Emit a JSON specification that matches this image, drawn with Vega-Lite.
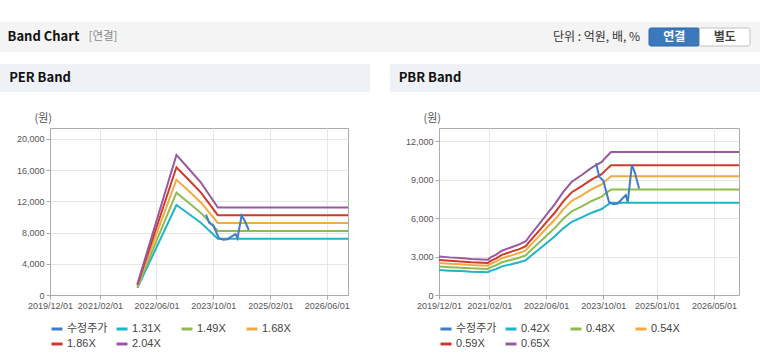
{
  "$schema": "https://vega.github.io/schema/vega-lite/v6.json",
  "padding": {"top": 22, "left": 0, "right": 0, "bottom": 0},
  "background": "#ffffff",
  "datasets": {
    "price": [
      {"d":"2023-08-01","s":"수정주가","v":10300},{"d":"2023-08-28","s":"수정주가","v":9240},{"d":"2023-10-02","s":"수정주가","v":8930},
      {"d":"2023-11-19","s":"수정주가","v":7270},{"d":"2023-12-26","s":"수정주가","v":7090},{"d":"2024-02-02","s":"수정주가","v":7150},
      {"d":"2024-03-12","s":"수정주가","v":7540},{"d":"2024-04-10","s":"수정주가","v":7800},{"d":"2024-04-27","s":"수정주가","v":7270},
      {"d":"2024-06-01","s":"수정주가","v":10170},{"d":"2024-06-28","s":"수정주가","v":9510},{"d":"2024-08-01","s":"수정주가","v":8330}
    ],
    "per": [
      {"d":"2021-12-20","s":"1.31X","v":904},{"d":"2022-11-20","s":"1.31X","v":11528},{"d":"2023-03-13","s":"1.31X","v":10310},{"d":"2023-06-20","s":"1.31X","v":9222},{"d":"2023-11-10","s":"1.31X","v":7205},{"d":"2026-12-01","s":"1.31X","v":7205},
      {"d":"2021-12-20","s":"1.49X","v":1028},{"d":"2022-11-20","s":"1.49X","v":13112},{"d":"2023-03-13","s":"1.49X","v":11726},{"d":"2023-06-20","s":"1.49X","v":10490},{"d":"2023-11-10","s":"1.49X","v":8195},{"d":"2026-12-01","s":"1.49X","v":8195},
      {"d":"2021-12-20","s":"1.68X","v":1159},{"d":"2022-11-20","s":"1.68X","v":14784},{"d":"2023-03-13","s":"1.68X","v":13222},{"d":"2023-06-20","s":"1.68X","v":11827},{"d":"2023-11-10","s":"1.68X","v":9240},{"d":"2026-12-01","s":"1.68X","v":9240},
      {"d":"2021-12-20","s":"1.86X","v":1283},{"d":"2022-11-20","s":"1.86X","v":16368},{"d":"2023-03-13","s":"1.86X","v":14638},{"d":"2023-06-20","s":"1.86X","v":13094},{"d":"2023-11-10","s":"1.86X","v":10230},{"d":"2026-12-01","s":"1.86X","v":10230},
      {"d":"2021-12-20","s":"2.04X","v":1408},{"d":"2022-11-20","s":"2.04X","v":17952},{"d":"2023-03-13","s":"2.04X","v":16055},{"d":"2023-06-20","s":"2.04X","v":14362},{"d":"2023-11-10","s":"2.04X","v":11220},{"d":"2026-12-01","s":"2.04X","v":11220}
    ],
    "pbr": [
      {"d":"2019-12-01","s":"0.42X","v":1945},{"d":"2020-03-01","s":"0.42X","v":1900},{"d":"2020-06-01","s":"0.42X","v":1868},{"d":"2020-09-01","s":"0.42X","v":1822},{"d":"2020-12-01","s":"0.42X","v":1796},{"d":"2021-01-20","s":"0.42X","v":1784},{"d":"2021-02-10","s":"0.42X","v":1887},{"d":"2021-04-01","s":"0.42X","v":2036},{"d":"2021-05-20","s":"0.42X","v":2236},{"d":"2021-08-10","s":"0.42X","v":2410},{"d":"2021-10-15","s":"0.42X","v":2553},{"d":"2021-12-10","s":"0.42X","v":2714},{"d":"2022-01-15","s":"0.42X","v":3005},{"d":"2022-03-25","s":"0.42X","v":3515},{"d":"2022-06-06","s":"0.42X","v":4071},{"d":"2022-08-15","s":"0.42X","v":4588},{"d":"2022-10-25","s":"0.42X","v":5208},{"d":"2023-01-06","s":"0.42X","v":5719},{"d":"2023-04-01","s":"0.42X","v":6061},{"d":"2023-06-25","s":"0.42X","v":6430},{"d":"2023-09-18","s":"0.42X","v":6721},{"d":"2023-10-22","s":"0.42X","v":6947},{"d":"2023-12-07","s":"0.42X","v":7218},{"d":"2026-12-01","s":"0.42X","v":7218},
      {"d":"2019-12-01","s":"0.48X","v":2223},{"d":"2020-03-01","s":"0.48X","v":2171},{"d":"2020-06-01","s":"0.48X","v":2134},{"d":"2020-09-01","s":"0.48X","v":2083},{"d":"2020-12-01","s":"0.48X","v":2053},{"d":"2021-01-20","s":"0.48X","v":2038},{"d":"2021-02-10","s":"0.48X","v":2156},{"d":"2021-04-01","s":"0.48X","v":2326},{"d":"2021-05-20","s":"0.48X","v":2555},{"d":"2021-08-10","s":"0.48X","v":2755},{"d":"2021-10-15","s":"0.48X","v":2917},{"d":"2021-12-10","s":"0.48X","v":3102},{"d":"2022-01-15","s":"0.48X","v":3434},{"d":"2022-03-25","s":"0.48X","v":4017},{"d":"2022-06-06","s":"0.48X","v":4653},{"d":"2022-08-15","s":"0.48X","v":5243},{"d":"2022-10-25","s":"0.48X","v":5952},{"d":"2023-01-06","s":"0.48X","v":6536},{"d":"2023-04-01","s":"0.48X","v":6927},{"d":"2023-06-25","s":"0.48X","v":7348},{"d":"2023-09-18","s":"0.48X","v":7680},{"d":"2023-10-22","s":"0.48X","v":7939},{"d":"2023-12-07","s":"0.48X","v":8249},{"d":"2026-12-01","s":"0.48X","v":8249},
      {"d":"2019-12-01","s":"0.54X","v":2501},{"d":"2020-03-01","s":"0.54X","v":2443},{"d":"2020-06-01","s":"0.54X","v":2401},{"d":"2020-09-01","s":"0.54X","v":2343},{"d":"2020-12-01","s":"0.54X","v":2310},{"d":"2021-01-20","s":"0.54X","v":2293},{"d":"2021-02-10","s":"0.54X","v":2426},{"d":"2021-04-01","s":"0.54X","v":2617},{"d":"2021-05-20","s":"0.54X","v":2875},{"d":"2021-08-10","s":"0.54X","v":3099},{"d":"2021-10-15","s":"0.54X","v":3282},{"d":"2021-12-10","s":"0.54X","v":3489},{"d":"2022-01-15","s":"0.54X","v":3863},{"d":"2022-03-25","s":"0.54X","v":4520},{"d":"2022-06-06","s":"0.54X","v":5234},{"d":"2022-08-15","s":"0.54X","v":5899},{"d":"2022-10-25","s":"0.54X","v":6696},{"d":"2023-01-06","s":"0.54X","v":7353},{"d":"2023-04-01","s":"0.54X","v":7793},{"d":"2023-06-25","s":"0.54X","v":8267},{"d":"2023-09-18","s":"0.54X","v":8640},{"d":"2023-10-22","s":"0.54X","v":8931},{"d":"2023-12-07","s":"0.54X","v":9280},{"d":"2026-12-01","s":"0.54X","v":9280},
      {"d":"2019-12-01","s":"0.59X","v":2732},{"d":"2020-03-01","s":"0.59X","v":2669},{"d":"2020-06-01","s":"0.59X","v":2623},{"d":"2020-09-01","s":"0.59X","v":2560},{"d":"2020-12-01","s":"0.59X","v":2523},{"d":"2021-01-20","s":"0.59X","v":2505},{"d":"2021-02-10","s":"0.59X","v":2651},{"d":"2021-04-01","s":"0.59X","v":2859},{"d":"2021-05-20","s":"0.59X","v":3141},{"d":"2021-08-10","s":"0.59X","v":3386},{"d":"2021-10-15","s":"0.59X","v":3585},{"d":"2021-12-10","s":"0.59X","v":3812},{"d":"2022-01-15","s":"0.59X","v":4221},{"d":"2022-03-25","s":"0.59X","v":4938},{"d":"2022-06-06","s":"0.59X","v":5719},{"d":"2022-08-15","s":"0.59X","v":6445},{"d":"2022-10-25","s":"0.59X","v":7316},{"d":"2023-01-06","s":"0.59X","v":8033},{"d":"2023-04-01","s":"0.59X","v":8514},{"d":"2023-06-25","s":"0.59X","v":9032},{"d":"2023-09-18","s":"0.59X","v":9440},{"d":"2023-10-22","s":"0.59X","v":9758},{"d":"2023-12-07","s":"0.59X","v":10139},{"d":"2026-12-01","s":"0.59X","v":10139},
      {"d":"2019-12-01","s":"0.65X","v":3010},{"d":"2020-03-01","s":"0.65X","v":2940},{"d":"2020-06-01","s":"0.65X","v":2890},{"d":"2020-09-01","s":"0.65X","v":2820},{"d":"2020-12-01","s":"0.65X","v":2780},{"d":"2021-01-20","s":"0.65X","v":2760},{"d":"2021-02-10","s":"0.65X","v":2920},{"d":"2021-04-01","s":"0.65X","v":3150},{"d":"2021-05-20","s":"0.65X","v":3460},{"d":"2021-08-10","s":"0.65X","v":3730},{"d":"2021-10-15","s":"0.65X","v":3950},{"d":"2021-12-10","s":"0.65X","v":4200},{"d":"2022-01-15","s":"0.65X","v":4650},{"d":"2022-03-25","s":"0.65X","v":5440},{"d":"2022-06-06","s":"0.65X","v":6300},{"d":"2022-08-15","s":"0.65X","v":7100},{"d":"2022-10-25","s":"0.65X","v":8060},{"d":"2023-01-06","s":"0.65X","v":8850},{"d":"2023-04-01","s":"0.65X","v":9380},{"d":"2023-06-25","s":"0.65X","v":9950},{"d":"2023-09-18","s":"0.65X","v":10400},{"d":"2023-10-22","s":"0.65X","v":10750},{"d":"2023-12-07","s":"0.65X","v":11170},{"d":"2026-12-01","s":"0.65X","v":11170}
    ]
  },
  "resolve": {"scale": {"color": "independent", "fill": "independent", "stroke": "independent"}, "legend": {"color": "independent", "fill": "independent", "stroke": "independent"}},
  "spacing": 12,
  "vconcat": [
    {
      "spacing": 0,
      "resolve": {"scale": {"color": "independent", "fill": "independent", "stroke": "independent"}, "legend": {"color": "independent", "fill": "independent", "stroke": "independent"}},
      "hconcat": [
        {"width": 87, "height": 30, "view": {"fill": "#f4f4f4", "stroke": null},
         "data": {"values": [{"t": "Band Chart"}]},
         "mark": {"type": "text", "font": "Noto Sans CJK KR", "fontSize": 13, "fontWeight": "bold", "color": "#111111"},
         "encoding": {"text": {"field": "t"}}},
        {"width": 32, "height": 30, "view": {"fill": "#f4f4f4", "stroke": null},
         "data": {"values": [{"t": "[연결]"}]},
         "mark": {"type": "text", "font": "Noto Sans CJK KR", "fontSize": 11.5, "color": "#8a8a8a"},
         "encoding": {"text": {"field": "t"}}},
        {"width": 429, "height": 30, "view": {"fill": "#f4f4f4", "stroke": null},
         "data": {"values": []},
         "mark": {"type": "text"}},
        {"width": 97, "height": 30, "view": {"fill": "#f4f4f4", "stroke": null},
         "data": {"values": [{"t": "단위 : 억원, 배, %"}]},
         "mark": {"type": "text", "font": "Noto Sans CJK KR", "fontSize": 12, "color": "#333333"},
         "encoding": {"text": {"field": "t"}}},
        {"width": 115, "height": 30, "view": {"fill": "#f4f4f4", "stroke": null},
         "data": {"values": [{"b": "연결"}, {"b": "별도"}]},
         "encoding": {
           "x": {"field": "b", "type": "nominal", "sort": ["연결", "별도"], "axis": null, "scale": {"paddingInner": 0, "paddingOuter": 0.139, "align": 0.286}},
           "y": {"datum": "btn", "type": "nominal", "axis": null, "scale": {"paddingInner": 0, "paddingOuter": 0.333}}
         },
         "layer": [
           {"mark": {"type": "bar", "cornerRadius": 2, "strokeWidth": 1},
            "encoding": {
              "fill": {"field": "b", "type": "nominal", "scale": {"domain": ["연결", "별도"], "range": ["#3b79be", "#ffffff"]}, "legend": null},
              "stroke": {"field": "b", "type": "nominal", "scale": {"domain": ["연결", "별도"], "range": ["#2e66a6", "#c0c0c0"]}, "legend": null}
            }},
           {"mark": {"type": "text", "font": "Noto Sans CJK KR", "fontSize": 12, "fontWeight": "bold"},
            "encoding": {
              "text": {"field": "b"},
              "color": {"field": "b", "type": "nominal", "scale": {"domain": ["연결", "별도"], "range": ["#ffffff", "#444444"]}, "legend": null}
            }}
         ]}
      ]
    },
    {
      "spacing": 19,
      "resolve": {"scale": {"color": "independent", "fill": "independent", "stroke": "independent"}, "legend": {"color": "independent", "fill": "independent", "stroke": "independent"}},
      "vconcat": [
        {
          "spacing": 0,
          "resolve": {"scale": {"color": "independent", "fill": "independent", "stroke": "independent"}, "legend": {"color": "independent", "fill": "independent", "stroke": "independent"}},
          "hconcat": [
            {"width": 80, "height": 28, "view": {"fill": "#eef2f7", "stroke": null},
             "data": {"values": [{"t": "PER Band"}]},
             "mark": {"type": "text", "font": "Noto Sans CJK KR", "fontSize": 13, "fontWeight": "bold", "color": "#111111"},
             "encoding": {"text": {"field": "t"}}},
            {"width": 290, "height": 28, "view": {"fill": "#eef2f7", "stroke": null},
             "data": {"values": []}, "mark": {"type": "text"}},
            {"width": 20, "height": 28, "view": {"stroke": null},
             "data": {"values": []}, "mark": {"type": "text"}},
            {"width": 80, "height": 28, "view": {"fill": "#eef2f7", "stroke": null},
             "data": {"values": [{"t": "PBR Band"}]},
             "mark": {"type": "text", "font": "Noto Sans CJK KR", "fontSize": 13, "fontWeight": "bold", "color": "#111111"},
             "encoding": {"text": {"field": "t"}}},
            {"width": 290, "height": 28, "view": {"fill": "#eef2f7", "stroke": null},
             "data": {"values": []}, "mark": {"type": "text"}}
          ]
        },
        {
          "spacing": 0,
          "resolve": {"scale": {"color": "independent", "fill": "independent", "stroke": "independent"}, "legend": {"color": "independent", "fill": "independent", "stroke": "independent"}},
          "hconcat": [
            {"width": 1, "height": 167, "view": {"stroke": null},
             "data": {"values": []}, "mark": {"type": "text"}},
            {
              "spacing": 37,
              "resolve": {"scale": {"color": "independent", "fill": "independent", "stroke": "independent"}, "legend": {"color": "independent", "fill": "independent", "stroke": "independent"}},
              "hconcat": [
                {
                  "width": 298, "height": 167,
                  "view": {"stroke": "#aaaaaa", "fill": "#ffffff"},
                  "encoding": {
                    "x": {"field": "d", "type": "temporal",
                          "scale": {"type": "utc", "domain": [{"year": 2019, "month": 12, "date": 1, "utc": true}, {"year": 2026, "month": 12, "date": 1, "utc": true}]},
                          "axis": {"title": null, "labelExpr": "utcFormat(datum.value, '%Y/%m/%d')", "labelOverlap": false, "labelFlush": false,
                                   "values": [{"year": 2019, "month": 12, "date": 1, "utc": true}, {"year": 2021, "month": 2, "date": 1, "utc": true}, {"year": 2022, "month": 6, "date": 1, "utc": true}, {"year": 2023, "month": 10, "date": 1, "utc": true}, {"year": 2025, "month": 2, "date": 1, "utc": true}, {"year": 2026, "month": 6, "date": 1, "utc": true}]}},
                    "y": {"field": "v", "type": "quantitative",
                          "scale": {"domain": [0, 21400], "nice": false},
                          "axis": {"title": "(원)", "values": [0, 4000, 8000, 12000, 16000, 20000], "format": ",d", "minExtent": 48,
                                   "titleAngle": 0, "titleAlign": "left", "titleBaseline": "middle", "titleX": -16, "titleY": -10}},
                    "color": {"field": "s", "type": "nominal",
                              "scale": {"domain": ["수정주가", "1.31X", "1.49X", "1.68X", "1.86X", "2.04X"], "range": ["#3f7cc9", "#1fb4c9", "#8fbc51", "#f2ab41", "#cf3a2c", "#98599f"]},
                              "legend": {"title": null}}
                  },
                  "layer": [
                    {"data": {"name": "per"}, "mark": {"type": "line", "strokeWidth": 2}},
                    {"data": {"name": "price"}, "mark": {"type": "line", "strokeWidth": 2}}
                  ]
                },
                {
                  "width": 300, "height": 167,
                  "view": {"stroke": "#aaaaaa", "fill": "#ffffff"},
                  "encoding": {
                    "x": {"field": "d", "type": "temporal",
                          "scale": {"type": "utc", "domain": [{"year": 2019, "month": 12, "date": 1, "utc": true}, {"year": 2026, "month": 12, "date": 1, "utc": true}]},
                          "axis": {"title": null, "labelExpr": "utcFormat(datum.value, '%Y/%m/%d')", "labelOverlap": false, "labelFlush": false,
                                   "values": [{"year": 2019, "month": 12, "date": 1, "utc": true}, {"year": 2021, "month": 2, "date": 1, "utc": true}, {"year": 2022, "month": 6, "date": 1, "utc": true}, {"year": 2023, "month": 10, "date": 1, "utc": true}, {"year": 2025, "month": 1, "date": 1, "utc": true}, {"year": 2026, "month": 5, "date": 1, "utc": true}]}},
                    "y": {"field": "v", "type": "quantitative",
                          "scale": {"domain": [0, 13050], "nice": false},
                          "axis": {"title": "(원)", "values": [0, 3000, 6000, 9000, 12000], "format": ",d", "minExtent": 48,
                                   "titleAngle": 0, "titleAlign": "left", "titleBaseline": "middle", "titleX": -16, "titleY": -10}},
                    "color": {"field": "s", "type": "nominal",
                              "scale": {"domain": ["수정주가", "0.42X", "0.48X", "0.54X", "0.59X", "0.65X"], "range": ["#3f7cc9", "#1fb4c9", "#8fbc51", "#f2ab41", "#cf3a2c", "#98599f"]},
                              "legend": {"title": null}}
                  },
                  "layer": [
                    {"data": {"name": "pbr"}, "mark": {"type": "line", "strokeWidth": 2}},
                    {"data": {"name": "price"}, "mark": {"type": "line", "strokeWidth": 2}}
                  ]
                }
              ]
            }
          ]
        }
      ]
    }
  ],
  "config": {
    "font": "Liberation Sans",
    "axis": {
      "labelFont": "Liberation Sans", "labelFontSize": 9, "labelColor": "#555555",
      "titleFont": "Noto Sans CJK KR", "titleFontSize": 11, "titleFontWeight": "normal", "titleColor": "#555555",
      "gridColor": "#e6e6e6", "domainColor": "#aaaaaa", "tickColor": "#aaaaaa", "tickSize": 4, "labelPadding": 2
    },
    "legend": {
      "orient": "bottom", "direction": "horizontal", "columns": 4,
      "symbolType": "stroke", "symbolStrokeWidth": 3, "symbolSize": 121,
      "labelFont": "Liberation Sans, Noto Sans CJK KR", "labelFontSize": 11, "labelColor": "#444444",
      "columnPadding": 2, "rowPadding": 2, "gridAlign": "all", "offset": 12, "labelOffset": 3
    }
  }
}
